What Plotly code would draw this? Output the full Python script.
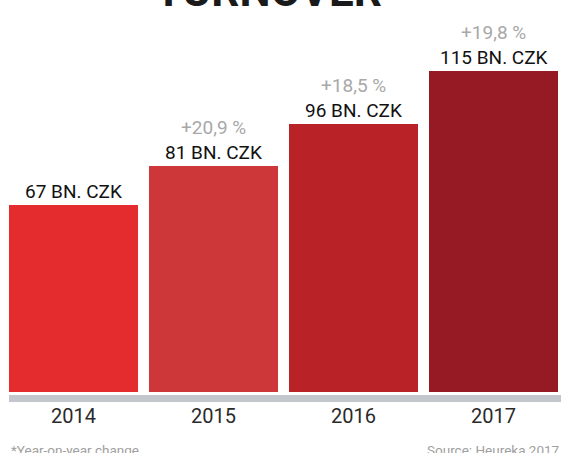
import plotly.graph_objects as go

years = ["2014", "2015", "2016", "2017"]
turnover = [67, 81, 96, 115]
value_labels = ["67 BN. CZK", "81 BN. CZK", "96 BN. CZK", "115 BN. CZK"]
change_labels = ["", "+20,9 %", "+18,5 %", "+19,8 %"]
bar_colors = ["#e42b2e", "#cd3739", "#b92227", "#961a23"]

FONT = "Roboto"
W, H = 561, 453
L, R, T, B = 9, 0, 0, 51
plot_h = H - T - B

fig = go.Figure()
fig.add_trace(go.Bar(
    x=list(range(len(years))), y=turnover,
    marker=dict(color=bar_colors, line=dict(width=0)),
    width=129 / 140, hoverinfo="skip",
))

annotations = []
for i, (v, vl, cl) in enumerate(zip(turnover, value_labels, change_labels)):
    annotations.append(dict(x=i, y=v, xref="x", yref="y", text=vl, showarrow=False,
                            yanchor="middle", yshift=14,
                            font=dict(family=FONT, size=19, color="#111111")))
    if cl:
        annotations.append(dict(x=i, y=v, xref="x", yref="y", text=cl, showarrow=False,
                                yanchor="middle", yshift=39,
                                font=dict(family=FONT, size=19, color="#a8a8a8")))

annotations.append(dict(x=0.471, y=1 + 9 / plot_h, xref="paper", yref="paper",
                        text="<b>TURNOVER</b>", showarrow=False, yanchor="middle",
                        font=dict(family=FONT, size=44, color="#1a1a1a")))
annotations.append(dict(x=0, y=-48 / plot_h, xref="paper", yref="paper",
                        text="*Year-on-year change", showarrow=False,
                        xanchor="left", yanchor="middle",
                        font=dict(family=FONT, size=13.5, color="#a0a0a0")))
annotations.append(dict(x=1, y=-48 / plot_h, xref="paper", yref="paper",
                        text="Source: Heureka 2017", showarrow=False,
                        xanchor="right", yanchor="middle",
                        font=dict(family=FONT, size=13.5, color="#a0a0a0")))

px_per_unit = 2.79
fig.update_layout(
    width=W, height=H,
    margin=dict(l=L, r=R, t=T, b=B),
    paper_bgcolor="white", plot_bgcolor="white",
    showlegend=False,
    bargap=0,
    xaxis=dict(range=[-64.5 / 140, (552 - 64.5) / 140], tickvals=list(range(len(years))),
               ticktext=years, showgrid=False, zeroline=False, showline=False,
               ticks="", tickfont=dict(family=FONT, size=20, color="#2a2a2a")),
    yaxis=dict(range=[-10 / px_per_unit, 392 / px_per_unit], visible=False,
               showgrid=False, zeroline=False),
    annotations=annotations,
    shapes=[dict(type="rect", xref="paper", yref="y", x0=0, x1=1,
                 y0=-3 / px_per_unit, y1=-10 / px_per_unit,
                 fillcolor="#c3c6cc", line=dict(width=0), layer="below")],
)

fig.write_html("out.html", config={"displayModeBar": False},
               post_script="document.body.style.margin='0';document.body.style.overflow='hidden';")
